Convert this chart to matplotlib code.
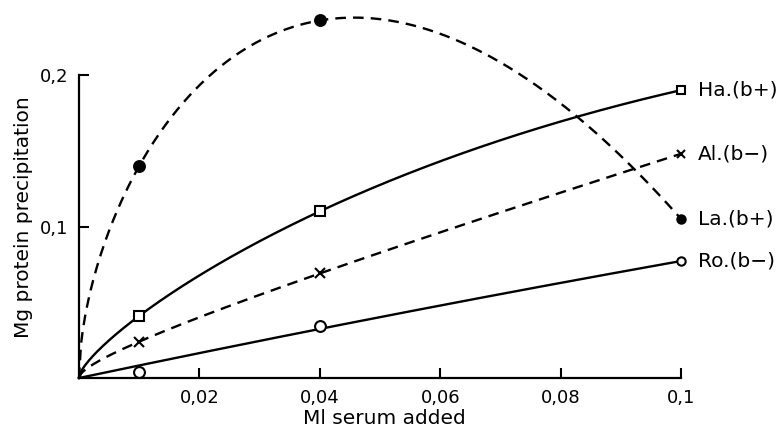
import matplotlib.pyplot as plt
import numpy as np

serum = [0.01, 0.04, 0.1]
la = [0.140, 0.236, 0.105]
ha = [0.041, 0.110, 0.190]
al = [0.024, 0.069, 0.148]
ro = [0.004, 0.034, 0.077]

x_ticks = [0.02, 0.04, 0.06, 0.08, 0.1]
x_tick_labels = ['0,02', '0,04', '0,06', '0,08', '0,1']
y_ticks = [0.1, 0.2]
y_tick_labels = ['0,1', '0,2']


def fit_curve(x, y, powers):
    # smooth curve starting at the origin: y = sum(c * x**p)
    x = np.asarray(x)
    y = np.asarray(y)
    basis = np.column_stack([x ** p for p in powers])
    coef = np.linalg.lstsq(basis, y, rcond=None)[0]
    xs = np.linspace(0, x[-1], 300)
    ys = sum(c * xs ** p for c, p in zip(coef, powers))
    return xs, ys


def main():
    plt.rcParams['font.family'] = 'DejaVu Sans'
    fig = plt.figure(figsize=(7.82, 4.29), dpi=100)
    ax = fig.add_axes([79 / 782, 51 / 429, 602 / 782, 303 / 429])

    series = [
        ('Ha.(b+)', ha, 's', 'white', False, [0.5, 1, 1.5]),
        ('Al.(b\u2212)', al, 'x', 'white', True, [0.5, 1, 1.5]),
        ('La.(b+)', la, 'o', 'black', True, [0.5, 1, 1.5]),
        ('Ro.(b\u2212)', ro, 'o', 'white', False, [1, 2]),
    ]
    for name, values, marker, face, dashed, powers in series:
        xs, ys = fit_curve(serum, values, powers)
        line, = ax.plot(xs, ys, color='black', lw=1.7, clip_on=False, zorder=2)
        if dashed:
            line.set_dashes((4.5, 3))
        ax.plot(serum[:2], values[:2], ls='none', marker=marker, ms=7.8,
                mfc=face, mec='black', mew=1.5, clip_on=False, zorder=3)
        ax.plot(serum[2:], values[2:], ls='none', marker=marker, ms=6,
                mfc=face, mec='black', mew=1.5, clip_on=False, zorder=3)
        ax.annotate(name, xy=(serum[-1], values[-1]), xytext=(12, 0),
                    textcoords='offset points', va='center', ha='left',
                    fontsize=14.5, annotation_clip=False)

    ax.set_xlim(0, 0.1)
    ax.set_ylim(0, 0.2)
    for side in ['top', 'right']:
        ax.spines[side].set_visible(False)
    ax.spines['left'].set_bounds(0, 0.2)
    ax.spines['bottom'].set_bounds(0, 0.1)
    for side in ['left', 'bottom']:
        ax.spines[side].set_linewidth(1.6)

    ax.set_xticks(x_ticks)
    ax.set_xticklabels(x_tick_labels)
    ax.set_yticks(y_ticks)
    ax.set_yticklabels(y_tick_labels)
    ax.tick_params(direction='in', length=7, width=1.5, labelsize=13, pad=8)

    ax.set_xlabel('Ml serum added', fontsize=14.5)
    ax.set_ylabel('Mg protein precipitation', fontsize=14.5)
    ax.xaxis.set_label_coords(0.507, -0.103)
    ax.yaxis.set_label_coords(-0.076, 0.531)

    fig.savefig('out.png', dpi=100)


if __name__ == '__main__':
    main()
